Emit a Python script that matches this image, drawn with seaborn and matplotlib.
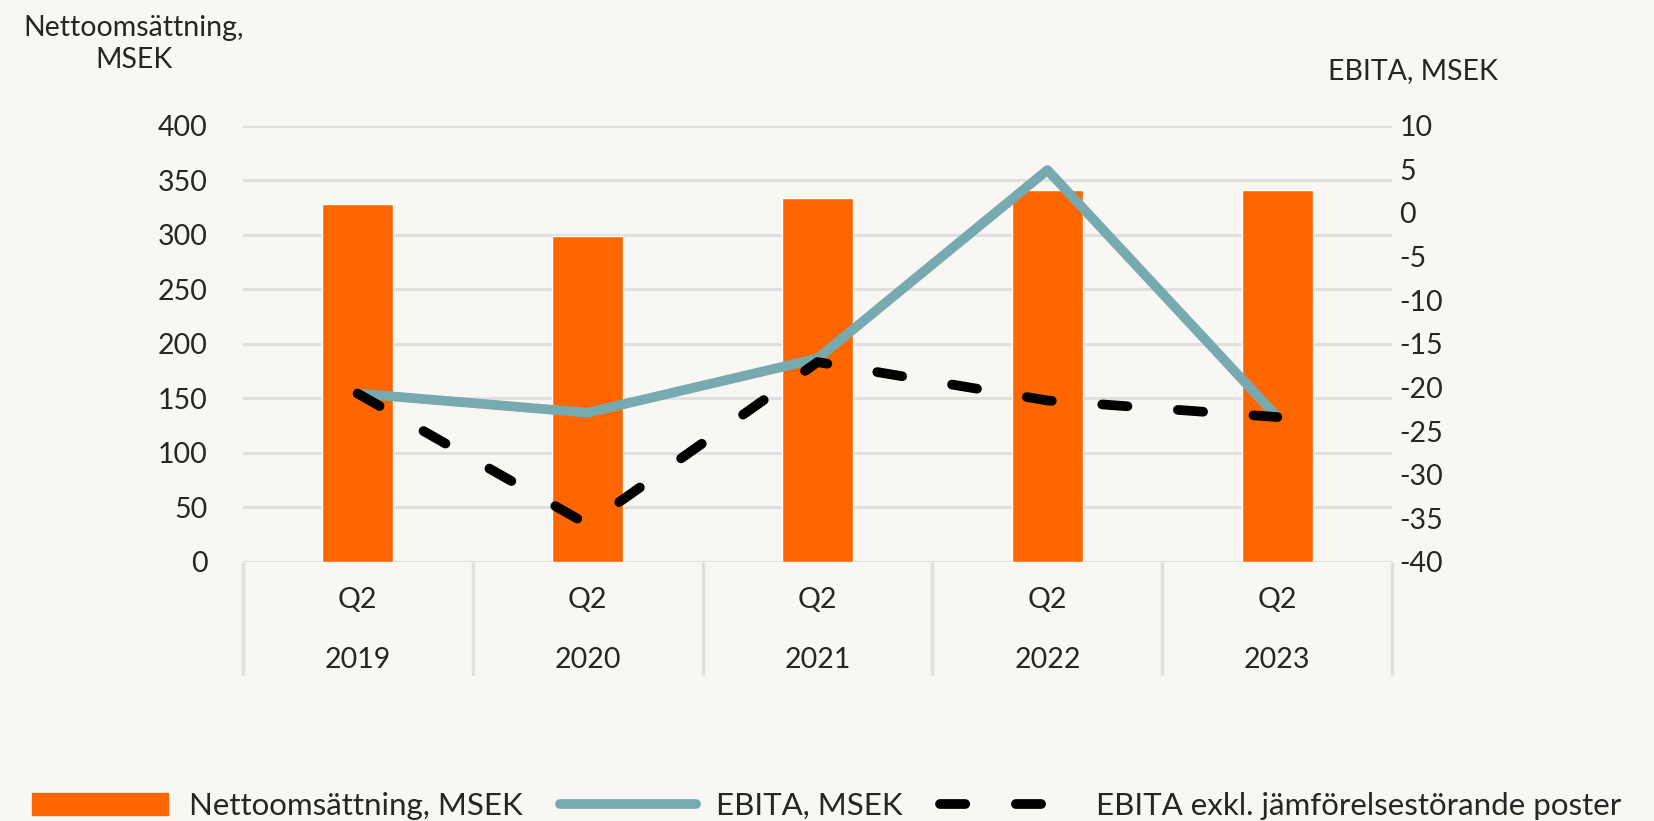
import matplotlib.pyplot as plt
import matplotlib.transforms as mtransforms
import numpy as np
import pandas as pd
import seaborn as sns
from matplotlib.lines import Line2D
from matplotlib.patches import Patch

# data
years = ["2019", "2020", "2021", "2022", "2023"]
quarters = ["Q2", "Q2", "Q2", "Q2", "Q2"]
net_sales = [328, 298.5, 333.5, 341, 341]
ebita = [-20.7, -22.9, -16.7, 4.9, -23.4]
ebita_excl = [-20.7, -35.7, -17.1, -21.5, -23.4]
left_ticks = [0, 50, 100, 150, 200, 250, 300, 350, 400]
right_ticks = [-40, -35, -30, -25, -20, -15, -10, -5, 0, 5, 10]

BG = "#F8F7F3"
ORANGE = "#FF6600"
TEAL = "#76A9B0"
GRID = "#E1DFDF"
FS = 20.5


def main() -> None:
    sns.set_theme(style="white")
    plt.rcParams["font.family"] = ["Lato", "DejaVu Sans"]

    df = pd.DataFrame({"year": years, "net_sales": net_sales,
                       "ebita": ebita, "ebita_excl": ebita_excl})

    fig = plt.figure(figsize=(16.54, 8.21), dpi=100, facecolor=BG)
    ax = fig.add_axes([0.1467, 0.3155, 0.6951, 0.5316], facecolor=BG)

    sns.barplot(data=df, x="year", y="net_sales", color=ORANGE, saturation=1,
                width=0.31, ax=ax, zorder=2)
    ax.set_xlim(-0.5, len(years) - 0.5)
    ax.set_ylim(0, 400)
    ax.set_yticks(left_ticks)
    ax.set_yticklabels([str(t) for t in left_ticks], fontsize=FS)
    ax.set_xticks(range(len(years)))
    ax.set_xticklabels(quarters, fontsize=FS)
    ax.tick_params(axis="x", length=0, pad=18)
    ax.tick_params(axis="y", length=0, pad=25)
    ax.set_xlabel("")
    ax.set_ylabel("")
    ax.yaxis.grid(True, color=GRID, lw=2.2, zorder=0)
    ax.set_axisbelow(True)
    for s in ax.spines.values():
        s.set_visible(False)

    # category box below the axis
    blend = mtransforms.blended_transform_factory(ax.transData, ax.transAxes)
    for xb in np.arange(len(years) + 1) - 0.5:
        ax.plot([xb, xb], [0, -0.259], transform=blend, color=GRID, lw=2.5,
                clip_on=False, solid_capstyle="butt")
    for i, y in enumerate(years):
        ax.text(i, -0.2245, y, transform=blend, ha="center", va="center", fontsize=FS)

    ax2 = ax.twinx()
    sns.lineplot(data=df, x="year", y="ebita", color=TEAL, lw=7, ax=ax2,
                 solid_joinstyle="round", solid_capstyle="round", sort=False)
    sns.lineplot(data=df, x="year", y="ebita_excl", color="black", lw=7, ax=ax2,
                 sort=False, dashes=False)
    ax2.lines[-1].set_dashes((2.6, 5.2))
    ax2.lines[-1].set_dash_capstyle("round")
    ax2.set_ylim(-40, 10)
    ax2.set_yticks(right_ticks)
    ax2.set_yticklabels([str(t) for t in right_ticks], fontsize=FS)
    ax2.tick_params(axis="y", length=0, pad=5)
    ax2.set_ylabel("")
    ax2.set_xlim(-0.5, len(years) - 0.5)
    ax2.grid(False)
    for s in ax2.spines.values():
        s.set_visible(False)

    fig.text(0.081, 1 - 28 / 821, "Nettoomsättning,", ha="center", va="center", fontsize=FS)
    fig.text(0.081, 1 - 60 / 821, "MSEK", ha="center", va="center", fontsize=FS)
    fig.text(0.854, 1 - 71 / 821, "EBITA, MSEK", ha="center", va="center", fontsize=FS)

    handles = [
        Patch(facecolor=ORANGE, edgecolor=ORANGE),
        Line2D([], [], color=TEAL, lw=7, solid_capstyle="round"),
        Line2D([], [], color="black", lw=7, dashes=(2.6, 5.2), dash_capstyle="round"),
    ]
    labels = ["Nettoomsättning, MSEK", "EBITA, MSEK", "EBITA exkl. jämförelsestörande poster"]
    fig.legend(handles, labels, loc="center", bbox_to_anchor=(0.5, 1 - 806 / 821),
               ncol=3, frameon=False, fontsize=22.5, handlelength=4.35,
               handletextpad=0.65, columnspacing=1.2, handleheight=0.7)

    fig.savefig("out.png", dpi=100, facecolor=BG)
    plt.close(fig)


if __name__ == "__main__":
    main()
